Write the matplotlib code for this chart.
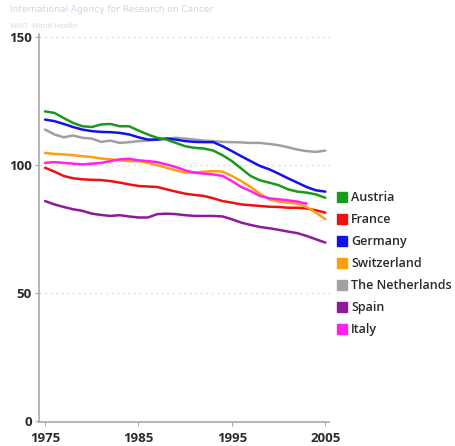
import matplotlib
matplotlib.use("Agg")
import matplotlib.pyplot as plt
from matplotlib.lines import Line2D

years = list(range(1975, 2006))

austria = [120.8, 120.2, 118.2, 116.3, 115.0, 114.7, 115.7, 115.9, 115.0, 115.0,
           113.3, 111.8, 110.5, 109.8, 108.5, 107.2, 106.6, 106.3, 105.5, 103.7,
           101.4, 98.5, 95.6, 93.9, 93.0, 92.0, 90.4, 89.5, 89.1, 88.4, 87.1]
france = [98.8, 97.3, 95.6, 94.7, 94.3, 94.1, 94.0, 93.6, 93.0, 92.3,
          91.7, 91.5, 91.3, 90.4, 89.5, 88.7, 88.2, 87.8, 86.9, 85.8,
          85.2, 84.5, 84.2, 83.9, 83.6, 83.5, 83.2, 83.2, 82.9, 82.2, 81.3]
germany = [117.6, 117.0, 115.9, 114.7, 113.7, 113.1, 112.8, 112.7, 112.4, 111.8,
           110.7, 109.8, 109.8, 110.2, 109.8, 109.2, 108.9, 108.8, 108.8, 107.2,
           105.3, 103.3, 101.4, 99.5, 98.2, 96.5, 94.7, 93.0, 91.3, 90.0, 89.5]
switzerland = [104.6, 104.2, 104.0, 103.7, 103.3, 103.0, 102.4, 102.1, 101.7, 101.4,
               101.4, 100.7, 99.8, 98.8, 97.8, 96.9, 96.9, 97.3, 97.5, 97.3,
               95.6, 93.6, 91.3, 88.7, 86.5, 85.6, 85.2, 84.8, 83.5, 81.3, 78.7]
netherlands = [113.7, 111.8, 110.7, 111.4, 110.5, 110.2, 108.9, 109.4, 108.5, 108.8,
               109.2, 109.4, 109.8, 110.2, 110.5, 110.2, 109.8, 109.4, 109.2, 108.9,
               108.8, 108.7, 108.5, 108.5, 108.1, 107.6, 106.8, 105.9, 105.3, 105.0, 105.5]
spain = [85.8, 84.5, 83.5, 82.6, 82.0, 80.9, 80.4, 80.0, 80.3, 79.8,
         79.4, 79.4, 80.7, 80.9, 80.7, 80.3, 80.0, 80.0, 80.0, 79.8,
         78.7, 77.4, 76.5, 75.7, 75.2, 74.6, 73.9, 73.3, 72.2, 70.9, 69.6]
italy_years = list(range(1975, 2004))
italy = [100.7, 101.0, 100.7, 100.4, 100.1, 100.4, 100.7, 101.4, 102.1, 102.3,
         101.7, 101.4, 101.0, 100.1, 99.1, 97.8, 96.9, 96.5, 96.2, 95.6,
         93.6, 91.3, 89.7, 87.8, 86.9, 86.5, 86.1, 85.6, 84.8]

series = [
    ("Austria", years, austria, "#1a9a1a"),
    ("France", years, france, "#ee1111"),
    ("Germany", years, germany, "#1111ee"),
    ("Switzerland", years, switzerland, "#ff9f0f"),
    ("The Netherlands", years, netherlands, "#a0a0a0"),
    ("Spain", years, spain, "#8e1a9a"),
    ("Italy", italy_years, italy, "#ff22ee"),
]

xticks = [1975, 1985, 1995, 2005]
yticks = [0, 50, 100, 150]

fig = plt.figure(figsize=(4.55, 4.46), dpi=100)
ax = fig.add_axes([39 / 455, 1 - 422 / 446, 291 / 455, 388 / 446])

order = [4, 5, 1, 3, 6, 2, 0]
for i in order:
    name, xs, ys, c = series[i]
    ax.plot(xs, ys, color=c, lw=1.8, solid_capstyle="round", zorder=3)

ax.set_xlim(1974.35, 2005.5)
ax.set_ylim(-0.4, 151)
ax.set_xticks(xticks)
ax.set_yticks(yticks)
lab_font = dict(family="Open Sans", weight="bold", size=9.5)
ax.set_xticklabels([str(v) for v in xticks], **lab_font, color="#2a2a2a")
ax.set_yticklabels([str(v) for v in yticks], **lab_font, color="#2a2a2a")
ax.tick_params(axis="both", length=3, width=0.8, color="#aaaaaa", pad=2)
ax.tick_params(axis="x", pad=4)

for y in yticks:
    ax.axhline(y, color="#e0e0e0", lw=1.0, ls=(0, (1.5, 2.5)), zorder=1)

for s in ["top", "right"]:
    ax.spines[s].set_visible(False)
for s in ["left", "bottom"]:
    ax.spines[s].set_color("#aaaaaa")
    ax.spines[s].set_linewidth(1.2)
ax.spines["bottom"].set_bounds(1974.35, 2005.4)

handles = [Line2D([0], [0], marker="s", ls="none", markersize=7,
                  markerfacecolor=c, markeredgecolor=c) for _, _, _, c in series]
labels = [n for n, _, _, _ in series]
leg = fig.legend(handles, labels, loc="upper left", bbox_to_anchor=(326 / 455, 1 - 180 / 446),
                 frameon=False, handlelength=0.8, handletextpad=0.3, labelspacing=0.72,
                 prop=dict(family="Open Sans", weight="semibold", size=9))
for t in leg.get_texts():
    t.set_color("#2a2a2a")

fig.text(10 / 455, 1 - 9 / 446, "International Agency for Research on Cancer",
         fontsize=6.5, color="#c8d8ee", va="center", ha="left")
fig.text(10 / 455, 1 - 26 / 446, "WHO  World Health",
         fontsize=5, color="#d0dcee", va="center", ha="left")

fig.savefig("out.png", dpi=100)
